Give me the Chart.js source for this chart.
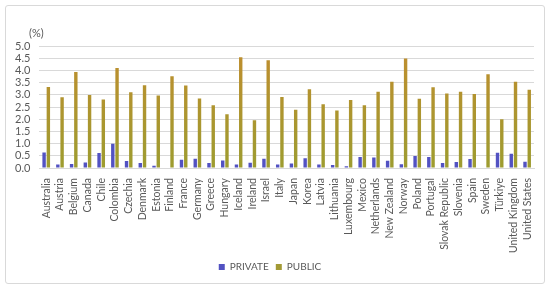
<!DOCTYPE html>
<html>
<head>
<meta charset="utf-8">
<script src="https://cdn.jsdelivr.net/npm/chart.js@4.4.0/dist/chart.umd.min.js"></script>
<style>
    body { margin: 0; background: #ffffff; }
    .chart-box {
        position: absolute;
        left: 5px;
        top: 5px;
        width: 538px;
        height: 277px;
        border: 1px solid #d9d9d9;
        border-radius: 3px;
        background: #ffffff;
    }
</style>
</head>
<body>
<div class="chart-box"><canvas id="chart"></canvas></div>
<script>
// Data
const countries = [
    'Australia', 'Austria', 'Belgium', 'Canada', 'Chile', 'Colombia', 'Czechia', 'Denmark',
    'Estonia', 'Finland', 'France', 'Germany', 'Greece', 'Hungary', 'Iceland', 'Ireland',
    'Israel', 'Italy', 'Japan', 'Korea', 'Latvia', 'Lithuania', 'Luxembourg', 'Mexico',
    'Netherlands', 'New Zealand', 'Norway', 'Poland', 'Portugal', 'Slovak Republic',
    'Slovenia', 'Spain', 'Sweden', 'Türkiye', 'United Kingdom', 'United States'
];
const privateValues = [
    0.64, 0.14, 0.16, 0.23, 0.62, 0.99, 0.29, 0.21,
    0.09, 0, 0.34, 0.38, 0.21, 0.31, 0.14, 0.22,
    0.38, 0.14, 0.18, 0.40, 0.14, 0.12, 0.07, 0.45,
    0.43, 0.30, 0.15, 0.49, 0.45, 0.21,
    0.25, 0.37, 0, 0.63, 0.58, 0.26
];
const publicValues = [
    3.32, 2.90, 3.93, 2.99, 2.81, 4.10, 3.10, 3.39,
    2.97, 3.76, 3.38, 2.85, 2.57, 2.20, 4.54, 1.96,
    4.42, 2.91, 2.39, 3.23, 2.61, 2.36, 2.79, 2.57,
    3.13, 3.53, 4.49, 2.84, 3.31, 3.05,
    3.13, 3.03, 3.84, 2.00, 3.53, 3.21
];
const yTicks = ['0.0', '0.5', '1.0', '1.5', '2.0', '2.5', '3.0', '3.5', '4.0', '4.5', '5.0'];

const textColor = '#595959';
const fontFamily = 'Lato, "Open Sans", sans-serif';

// gold at the top fading to olive near the axis
function publicFill(context) {
    const chart = context.chart;
    const area = chart.chartArea;
    if (!area) return '#b3902f';
    const g = chart.ctx.createLinearGradient(0, area.top, 0, area.bottom);
    g.addColorStop(0, '#c08d2e');
    g.addColorStop(1, '#9d9c30');
    return g;
}

// "(%)" unit label above the value axis
const unitLabel = {
    id: 'unitLabel',
    afterDraw(chart) {
        const { ctx, chartArea } = chart;
        ctx.save();
        ctx.fillStyle = textColor;
        ctx.font = '11px ' + fontFamily;
        ctx.textAlign = 'center';
        ctx.textBaseline = 'middle';
        ctx.fillText('(%)', chartArea.left - 3, chartArea.top - 13);
        ctx.restore();
    }
};

new Chart(document.getElementById('chart'), {
    type: 'bar',
    data: {
        labels: countries,
        datasets: [
            {
                label: 'PRIVATE',
                data: privateValues,
                backgroundColor: '#5252c2',
                barPercentage: 0.8,
                categoryPercentage: 0.62
            },
            {
                label: 'PUBLIC',
                data: publicValues,
                backgroundColor: publicFill,
                barPercentage: 0.8,
                categoryPercentage: 0.62
            }
        ]
    },
    options: {
        responsive: true,
        maintainAspectRatio: false,
        animation: false,
        layout: { padding: { top: 40, right: 10, left: 0, bottom: 1 } },
        plugins: {
            tooltip: { enabled: false },
            legend: {
                position: 'bottom',
                labels: {
                    boxWidth: 6,
                    boxHeight: 6,
                    padding: 7,
                    color: textColor,
                    font: { family: fontFamily, size: 10 },
                    generateLabels(chart) {
                        return chart.data.datasets.map((ds, i) => ({
                            text: ds.label,
                            fillStyle: i === 0 ? '#5252c2' : '#a39a35',
                            strokeStyle: 'transparent',
                            lineWidth: 0,
                            fontColor: textColor,
                            datasetIndex: i
                        }));
                    }
                }
            }
        },
        scales: {
            x: {
                grid: { display: false },
                border: { color: '#d9d9d9' },
                ticks: {
                    color: textColor,
                    font: { family: fontFamily, size: 10.5 },
                    minRotation: 90,
                    maxRotation: 90,
                    autoSkip: false,
                    padding: 2
                }
            },
            y: {
                min: 0,
                max: 5,
                grid: { color: '#d9d9d9', drawTicks: false },
                border: { display: false },
                ticks: {
                    stepSize: 0.5,
                    autoSkip: false,
                    padding: 9,
                    color: textColor,
                    font: { family: fontFamily, size: 11 },
                    callback: (v, i) => yTicks[i]
                }
            }
        }
    },
    plugins: [unitLabel]
});
</script>
</body>
</html>
